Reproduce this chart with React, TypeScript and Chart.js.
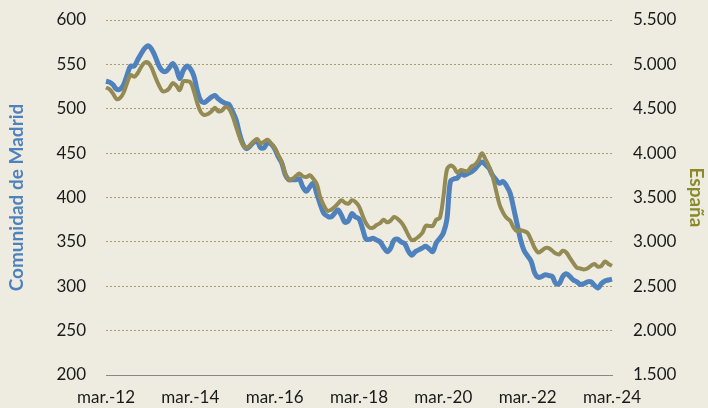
import React, { useEffect, useRef } from "react";
import { Chart, registerables } from "chart.js";

Chart.register(...registerables);

// Monthly series, March 2012 – March 2024
const startYear = 2012;
const startMonth = 2; // 0 = January, 2 = March
const monthNames = ["ene.", "feb.", "mar.", "abr.", "may.", "jun.", "jul.", "ago.", "sep.", "oct.", "nov.", "dic."];

// Comunidad de Madrid (thousands) – left axis
const madrid = [
  531, 530, 527, 522, 522, 527, 538, 548, 548, 555,
  562, 568, 571, 567, 559, 549, 543, 542, 546, 551,
  545, 534, 543, 548, 545, 537, 520, 509, 507, 510,
  513, 515, 511, 508, 506, 505, 497, 488, 472, 460,
  455, 458, 462, 464, 456, 456, 462, 460, 455, 446,
  439, 426, 420, 420, 420, 421, 412, 407, 412, 416,
  404, 392, 382, 379, 378, 382, 386, 380, 372, 374,
  382, 378, 376, 365, 353, 353, 354, 352, 350, 344,
  339, 343, 352, 353, 350, 348, 340, 335, 339, 341,
  343, 345, 342, 339, 349, 354, 360, 375, 418, 421,
  422, 427, 425, 427, 429, 432, 437, 440, 437, 433,
  425, 420, 416, 418, 413, 405, 388, 370, 352, 340,
  334, 328, 315, 310, 311, 313, 312, 311, 303, 303,
  311, 314, 311, 307, 305, 302, 303, 305, 305, 301,
  298, 303, 306, 307, 308,
];

// España (thousands) – right axis
const espana = [
  4740, 4720, 4670, 4610, 4620, 4680, 4790, 4880, 4860, 4900,
  4970, 5020, 5020, 4960, 4860, 4770, 4700, 4700, 4730, 4790,
  4760, 4710, 4810, 4810, 4800, 4700, 4560, 4460, 4430, 4440,
  4470, 4510, 4470, 4480, 4520, 4500, 4420, 4300, 4180, 4090,
  4060, 4090, 4130, 4160, 4110, 4130, 4150, 4110, 4060, 3980,
  3900, 3770, 3700, 3710, 3740, 3770, 3740, 3730, 3750, 3710,
  3650, 3500, 3410, 3350, 3360, 3390, 3430, 3470, 3440, 3430,
  3470, 3450, 3400, 3300, 3210, 3160, 3160, 3190, 3210, 3250,
  3220, 3240, 3280, 3260, 3220, 3160, 3080, 3020, 3030, 3060,
  3100, 3180, 3180, 3180, 3250, 3270, 3500, 3810, 3860, 3840,
  3780, 3810, 3800, 3800, 3850, 3870, 3920, 4000, 3930, 3850,
  3740, 3580, 3420, 3330, 3270, 3240, 3160, 3120, 3130, 3120,
  3100, 3020, 2930, 2880, 2900, 2930, 2930, 2900, 2870, 2860,
  2900, 2880, 2820, 2760, 2710, 2700, 2690, 2700, 2730, 2750,
  2720, 2730, 2780, 2750, 2730,
];

const leftTitle = "Comunidad de Madrid";
const rightTitle = "España";
const leftRange = [200, 600, 50];
const rightRange = [1500, 5500, 500];
const tickEvery = 24;

const labels = madrid.map((_, i) => {
  const m = (startMonth + i) % 12;
  const y = startYear + Math.floor((startMonth + i) / 12);
  return `${monthNames[m]}-${String(y % 100).padStart(2, "0")}`;
});

const fmt = (v: number) => String(v).replace(/\B(?=(\d{3})+(?!\d))/g, ".");

const zeroPad = (s: any) => {
  s.paddingTop = 0;
  s.paddingBottom = 0;
  s.paddingLeft = 0;
  s.paddingRight = 0;
};

export default function App() {
  const ref = useRef<HTMLCanvasElement | null>(null);

  useEffect(() => {
    document.body.style.margin = "0";
    const canvas = ref.current;
    if (!canvas) return;
    Chart.defaults.font.family = "Lato, 'Open Sans', sans-serif";
    const chart = new Chart(canvas, {
      type: "line",
      data: {
        labels,
        datasets: [
          {
            label: leftTitle,
            data: madrid,
            yAxisID: "y",
            borderColor: "#4F81BD",
            borderWidth: 5,
            pointRadius: 0,
            tension: 0.35,
            order: 2,
          },
          {
            label: rightTitle,
            data: espana,
            yAxisID: "y1",
            borderColor: "#948A54",
            borderWidth: 4,
            pointRadius: 0,
            tension: 0.35,
            order: 1,
          },
        ],
      },
      options: {
        responsive: false,
        animation: false,
        layout: { padding: { top: 20, left: 0, right: 0, bottom: 0 } },
        plugins: { legend: { display: false }, tooltip: { enabled: false } },
        scales: {
          x: {
            offset: false,
            grid: { display: false, drawTicks: false },
            border: { display: true, color: "#888888", width: 1 },
            ticks: {
              autoSkip: false,
              maxRotation: 0,
              minRotation: 0,
              padding: 12,
              color: "#1A1A1A",
              font: { size: 17 },
              callback: (_v: any, i: number) => (i % tickEvery === 0 ? labels[i] : null),
            },
            afterFit: (s: any) => {
              s.height = 33;
              zeroPad(s);
            },
          },
          y: {
            position: "left",
            min: leftRange[0],
            max: leftRange[1],
            ticks: { stepSize: leftRange[2], padding: 20, color: "#1A1A1A", font: { size: 17 } },
            grid: {
              drawTicks: false,
              color: (c: any) => (c.tick && c.tick.value === leftRange[0] ? "rgba(0,0,0,0)" : "#A89E6E"),
              lineWidth: 1,
            },
            border: { display: false, dash: [2, 2] },
            title: {
              display: true,
              text: leftTitle,
              color: "#4F81BD",
              font: { size: 19, weight: "bold" },
              padding: { top: 5, bottom: 0 },
            },
            afterFit: (s: any) => {
              s.width = 106;
              zeroPad(s);
            },
          },
          y1: {
            position: "right",
            min: rightRange[0],
            max: rightRange[1],
            ticks: {
              stepSize: rightRange[2],
              padding: 21,
              color: "#1A1A1A",
              font: { size: 17 },
              callback: (v: any) => fmt(Number(v)),
            },
            grid: { display: false, drawTicks: false },
            border: { display: false },
            title: {
              display: true,
              text: rightTitle,
              color: "#8A8A2A",
              font: { size: 19, weight: "bold" },
              padding: { top: 0, bottom: 0 },
            },
            afterFit: (s: any) => {
              s.width = 96;
              zeroPad(s);
            },
          },
        },
      },
    });
    return () => chart.destroy();
  }, []);

  return (
    <div style={{ position: "fixed", left: 0, top: 0, width: 708, height: 408, background: "#EEECE1" }}>
      <canvas ref={ref} width={708} height={408} style={{ display: "block" }} />
    </div>
  );
}
